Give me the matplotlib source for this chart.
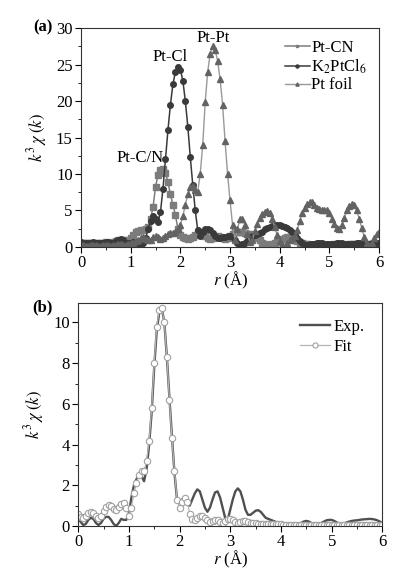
import numpy as np
import matplotlib
matplotlib.use("Agg")
import matplotlib.pyplot as plt
from matplotlib.ticker import MultipleLocator

plt.rcParams['font.family'] = ['Liberation Serif', 'DejaVu Serif']
plt.rcParams['mathtext.fontset'] = 'stix'
plt.rcParams['font.size'] = 12

# r grid of the Fourier transform (Angstrom)
r = np.round(np.arange(0, 6.001, 0.05), 2)

# panel (a)
pt_cn = [0.6, 0.6, 0.5, 0.5, 0.5, 0.6, 0.6, 0.5, 0.5, 0.6,
         0.7, 0.6, 0.6, 0.7, 0.8, 0.9, 1.0, 0.9, 0.8, 0.9,
         1.2, 1.6, 2.0, 2.2, 2.3, 2.3, 2.4, 2.8, 3.8, 5.5,
         8.2, 9.9, 10.6, 10.7, 10.2, 8.9, 7.2, 5.8, 4.4, 2.5,
         1.6, 1.3, 1.2, 1.1, 1.2, 1.4, 1.7, 2.0, 2.1, 1.9,
         1.5, 1.2, 1.1, 1.2, 1.4, 1.5, 1.4, 1.2, 1.1, 1.2,
         1.5, 1.8, 2.0, 2.1, 2.1, 2.0, 1.9, 1.8, 1.8, 1.7,
         1.5, 1.2, 0.9, 0.6, 0.4, 0.3, 0.3, 0.4, 0.5, 0.7,
         0.9, 1.1, 1.2, 1.3, 1.3, 1.2, 1.0, 0.8, 0.6, 0.5,
         0.4, 0.4, 0.3, 0.3, 0.3, 0.4, 0.4, 0.4, 0.3, 0.3,
         0.3, 0.3, 0.4, 0.4, 0.4, 0.3, 0.3, 0.3, 0.4, 0.4,
         0.4, 0.4, 0.3, 0.3, 0.3, 0.3, 0.4, 0.4, 0.4, 0.4,
         0.4]

k2ptcl6 = [0.7, 0.6, 0.5, 0.5, 0.6, 0.7, 0.6, 0.5, 0.5, 0.6,
           0.7, 0.7, 0.6, 0.6, 0.8, 1.0, 1.1, 0.9, 0.6, 0.5,
           0.6, 0.7, 0.5, 0.3, 0.2, 0.5, 1.2, 2.4, 3.6, 4.2,
           3.9, 3.4, 4.8, 8.0, 12.0, 16.0, 19.5, 22.3, 24.0, 24.6,
           24.3, 22.8, 20.0, 16.5, 12.3, 8.5, 5.0, 2.3, 1.5, 2.0,
           2.4, 2.5, 2.3, 1.9, 1.5, 1.2, 1.2, 1.3, 1.4, 1.5,
           1.5, 1.3, 0.9, 0.5, 0.3, 0.4, 0.6, 0.8, 1.2, 1.5,
           1.7, 1.8, 1.9, 2.1, 2.4, 2.6, 2.8, 2.9, 3.0, 3.0,
           3.0, 2.9, 2.8, 2.6, 2.3, 2.0, 1.6, 1.2, 0.8, 0.5,
           0.3, 0.3, 0.4, 0.4, 0.4, 0.5, 0.5, 0.5, 0.4, 0.4,
           0.4, 0.4, 0.4, 0.5, 0.5, 0.5, 0.4, 0.4, 0.4, 0.4,
           0.4, 0.5, 0.5, 0.5, 0.4, 0.4, 0.4, 0.5, 0.5, 0.5,
           0.5]

pt_foil = [0.3, 0.3, 0.2, 0.2, 0.3, 0.3, 0.3, 0.2, 0.2, 0.3,
           0.3, 0.3, 0.2, 0.3, 0.3, 0.4, 0.4, 0.3, 0.3, 0.4,
           0.5, 0.6, 0.8, 1.0, 1.2, 1.3, 1.1, 0.9, 1.0, 1.3,
           1.5, 1.3, 1.1, 1.2, 1.5, 1.8, 1.9, 1.9, 2.0, 2.4,
           3.0, 4.2, 5.8, 7.2, 8.2, 8.3, 7.8, 7.6, 10.0, 14.0,
           19.8, 24.0, 26.5, 27.5, 27.0, 25.5, 23.0, 19.5, 14.5, 10.0,
           6.4, 3.0, 1.0, 2.5, 3.8, 3.9, 3.0, 1.8, 0.7, 1.0,
           2.2, 3.2, 4.0, 4.5, 4.8, 4.9, 4.6, 3.8, 2.7, 1.6,
           0.8, 0.3, 0.2, 0.5, 0.9, 1.2, 1.5, 2.3, 3.5, 4.6,
           5.4, 5.9, 6.1, 6.1, 5.8, 5.4, 5.2, 5.1, 5.1, 5.0,
           4.6, 3.9, 3.2, 2.6, 2.4, 3.0, 4.0, 5.0, 5.6, 5.9,
           5.7, 5.0, 3.9, 2.6, 1.4, 0.5, 0.1, 0.5, 1.2, 1.8,
           2.1]

# panel (b)
exp_b = [0.35, 0.2, 0.05, 0.1, 0.3, 0.4, 0.35, 0.15, 0.05, 0.15,
         0.35, 0.45, 0.45, 0.3, 0.1, 0.0, 0.15, 0.35, 0.3, 0.3,
         0.6, 1.4, 2.0, 2.3, 2.5, 2.45, 2.2, 2.8, 4.0, 5.6,
         7.8, 9.6, 10.5, 10.7, 10.0, 8.3, 6.3, 4.4, 2.6, 1.3,
         1.2, 1.3, 1.4, 1.2, 1.0, 1.3, 1.6, 1.8, 1.7, 1.3,
         0.9, 0.7, 0.9, 1.3, 1.65, 1.7, 1.4, 0.9, 0.4, 0.3,
         0.8, 1.3, 1.7, 1.85, 1.7, 1.3, 0.8, 0.55, 0.55, 0.65,
         0.75, 0.78, 0.7, 0.55, 0.4, 0.35, 0.3, 0.25, 0.2, 0.12,
         0.08, 0.05, 0.05, 0.05, 0.05, 0.05, 0.05, 0.08, 0.15, 0.22,
         0.25, 0.22, 0.15, 0.1, 0.08, 0.1, 0.15, 0.22, 0.28, 0.3,
         0.3, 0.25, 0.18, 0.12, 0.1, 0.12, 0.18, 0.22, 0.25, 0.27,
         0.28, 0.3, 0.32, 0.33, 0.34, 0.35, 0.34, 0.32, 0.28, 0.22,
         0.15]

fit_b = [0.6, 0.45, 0.4, 0.5, 0.65, 0.7, 0.65, 0.5, 0.4, 0.5,
         0.75, 0.95, 1.05, 1.0, 0.85, 0.8, 0.95, 1.1, 1.15, 0.9,
         0.5, 0.9, 1.6, 2.1, 2.5, 2.7, 2.7, 3.2, 4.2, 5.8,
         8.0, 9.8, 10.6, 10.7, 10.0, 8.3, 6.2, 4.3, 2.7, 1.3,
         0.9, 1.2, 1.4, 1.2, 0.6, 0.35, 0.3, 0.4, 0.5, 0.5,
         0.4, 0.3, 0.2, 0.25, 0.3, 0.3, 0.2, 0.15, 0.25, 0.35,
         0.35, 0.3, 0.2, 0.15, 0.2, 0.25, 0.25, 0.2, 0.15, 0.15,
         0.15, 0.1, 0.1, 0.1, 0.1, 0.1, 0.1, 0.1, 0.1, 0.1,
         0.08, 0.06, 0.05, 0.05, 0.05, 0.05, 0.05, 0.05, 0.05, 0.05,
         0.05, 0.05, 0.05, 0.05, 0.05, 0.05, 0.05, 0.05, 0.05, 0.05,
         0.05, 0.05, 0.05, 0.05, 0.05, 0.05, 0.05, 0.05, 0.05, 0.05,
         0.05, 0.05, 0.05, 0.05, 0.05, 0.05, 0.05, 0.05, 0.05, 0.05,
         0.05]

ylab = r'$k^3\,\chi\;(k)$'
xlab = r'$r$ (Å)'


def style_axes(ax):
    ax.tick_params(which='both', direction='out', top=False, right=False,
                   labelsize=12, pad=2)
    ax.tick_params(which='major', length=4, width=0.8)
    ax.tick_params(which='minor', length=2, width=0.6)
    ax.xaxis.set_major_locator(MultipleLocator(1))
    ax.xaxis.set_minor_locator(MultipleLocator(0.5))
    for s in ax.spines.values():
        s.set_linewidth(0.8)
        s.set_color('#333333')
    ax.set_xlim(0, 6)
    ax.set_xlabel(xlab, fontsize=12, labelpad=-1)
    ax.set_ylabel(ylab, fontsize=12, labelpad=5)


fig = plt.figure(figsize=(4.05, 5.73), dpi=100)

# (a)
ax1 = fig.add_axes([0.2, 0.569, 0.736, 0.382])
ax1.plot(r, pt_cn, color='#7c7c7c', marker='s', ms=3.8, mec='#7c7c7c',
         lw=1.1, label='Pt-CN')
ax1.plot(r, k2ptcl6, color='#3a3a3a', marker='o', ms=4.0, mec='#3a3a3a',
         lw=1.1, label=r'K$_2$PtCl$_6$')
ax1.plot(r, pt_foil, color='#999999', marker='^', ms=4.2, mfc='#636363',
         mec='#636363', lw=1.0, label='Pt foil')
ax1.set_ylim(0, 30)
ax1.yaxis.set_major_locator(MultipleLocator(5))
ax1.yaxis.set_minor_locator(MultipleLocator(2.5))
style_axes(ax1)
ax1.legend(loc='upper right', frameon=False, fontsize=12, handlelength=1.5,
           handletextpad=0.1, labelspacing=0.1, markerscale=0.55,
           borderaxespad=0.3)
ax1.text(1.18, 12.2, 'Pt-C/N', ha='center', va='center', fontsize=12)
ax1.text(1.79, 26.1, 'Pt-Cl', ha='center', va='center', fontsize=12)
ax1.text(2.67, 28.7, 'Pt-Pt', ha='center', va='center', fontsize=12)
fig.text(0.106, 0.953, '(a)', ha='center', va='center', fontsize=12,
         fontweight='bold')

# (b)
ax2 = fig.add_axes([0.193, 0.082, 0.751, 0.389])
ax2.plot(r, exp_b, color='#505050', lw=1.7, label='Exp.')
ax2.plot(r, fit_b, color='#b5b5b5', marker='o', ms=4.6, mfc='white',
         mec='#a0a0a0', mew=0.8, lw=0.9, label='Fit')
ax2.set_ylim(0, 10.95)
ax2.yaxis.set_major_locator(MultipleLocator(2))
ax2.yaxis.set_minor_locator(MultipleLocator(1))
style_axes(ax2)
ax2.legend(loc='upper right', bbox_to_anchor=(0.99, 0.995), frameon=False,
           fontsize=12, handlelength=1.8, handletextpad=0.2,
           labelspacing=0.2, markerscale=0.8)
fig.text(0.106, 0.464, '(b)', ha='center', va='center', fontsize=12,
         fontweight='bold')

fig.savefig('out.png', dpi=100)
